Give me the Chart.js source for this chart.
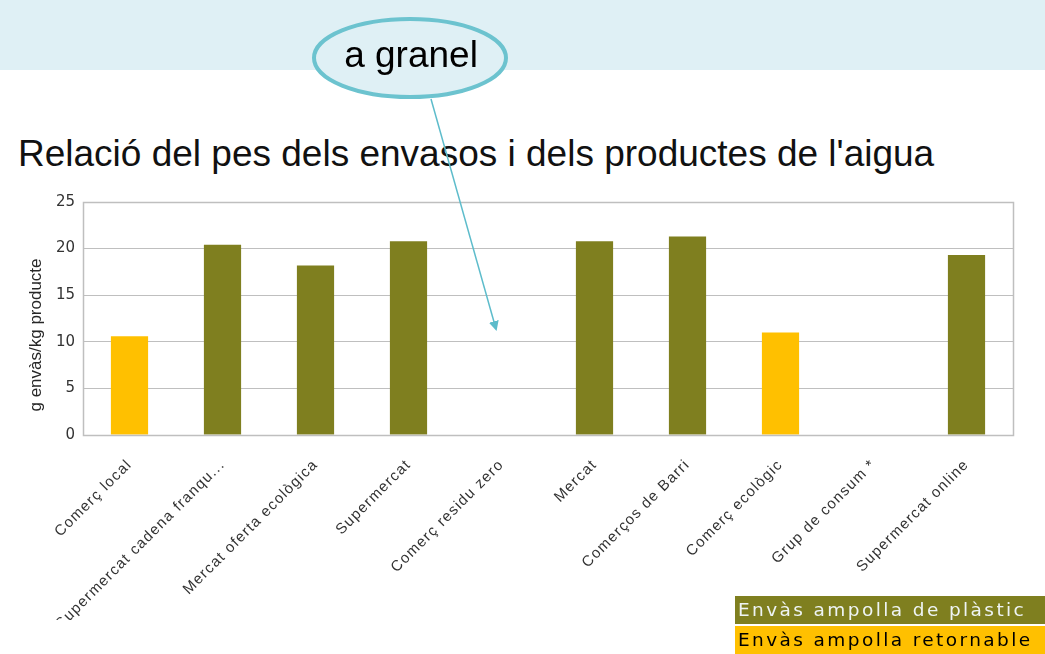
<!DOCTYPE html>
<html>
<head>
<meta charset="utf-8">
<script src="https://cdn.jsdelivr.net/npm/chart.js@4.4.1/dist/chart.umd.min.js"></script>
<style>
  html, body { margin:0; padding:0; background:#fff; }
  #page { position:relative; width:1045px; height:654px; overflow:hidden; background:#fff; }
  #band { position:absolute; left:0; top:0; width:1045px; height:70px; background:#dff0f5; }
  #title { position:absolute; left:18px; top:133px; font-family:"Liberation Sans", Arial, sans-serif; font-size:37px; line-height:normal; color:#111; white-space:nowrap; }
  #wrap { position:absolute; left:0; top:185px; width:1045px; height:435px; }
  #overlay { position:absolute; left:0; top:0; }
  .leg { position:absolute; left:735px; width:310px; height:28px; font-family:"DejaVu Sans", Verdana, sans-serif; font-size:18.5px; line-height:28px; padding-left:3px; box-sizing:border-box; white-space:nowrap; letter-spacing:2.4px; overflow:hidden; }
</style>
</head>
<body>
<div id="page">
  <div id="band"></div>
  <div id="title">Relació del pes dels envasos i dels productes de l'aigua</div>
  <div id="wrap"><canvas id="c" width="1045" height="435"></canvas></div>
  <svg id="overlay" width="1045" height="654">
    <defs>
      <marker id="ah" markerWidth="10" markerHeight="10" refX="8" refY="5" orient="auto" markerUnits="userSpaceOnUse">
        <path d="M0,0 L10,5 L0,10 z" fill="#5dbccb"/>
      </marker>
    </defs>
    <line x1="431" y1="99" x2="496" y2="329" stroke="#5dbccb" stroke-width="1.5" marker-end="url(#ah)"/>
    <ellipse cx="410" cy="58" rx="96" ry="39" fill="#dff0f5" stroke="#6cc3cf" stroke-width="4"/>
    <text x="411" y="67" text-anchor="middle" font-family="Liberation Sans, Arial, sans-serif" font-size="37" fill="#000">a granel</text>
  </svg>
  <div id="legend"></div>
</div>
<script>
const categories = [
  "Comerç local",
  "Supermercat cadena franqu...",
  "Mercat oferta ecològica",
  "Supermercat",
  "Comerç residu zero",
  "Mercat",
  "Comerços de Barri",
  "Comerç ecològic",
  "Grup de consum *",
  "Supermercat online"
];
const seriesNames = ["Envàs ampolla de plàstic", "Envàs ampolla retornable"];
const plasticValues    = [null, 20.4, 18.2, 20.8, null, 20.8, 21.3, null, null, 19.3];
const returnableValues = [10.6, null, null, null, null, null, null, 11.0, null, null];
const yTicks = [0, 5, 10, 15, 20, 25];
const yTitle = "g envàs/kg producte";
const colors = ["#7f7f1f", "#ffc000"];
const legendText = ["#eef4f4", "#000000"];

const frame = {
  id: 'frame',
  beforeDraw(chart) {
    const s = chart.scales.x;
    if (s && !s._spaced) {
      const orig = s.drawLabels.bind(s);
      s.drawLabels = function (area) {
        const c = this.ctx;
        c.save();
        c.letterSpacing = '1.2px';
        orig(area);
        c.restore();
      };
      s._spaced = true;
    }
  },
  afterDatasetsDraw(chart) {
    const a = chart.chartArea, ctx = chart.ctx;
    ctx.save();
    ctx.strokeStyle = '#bfbfbf';
    ctx.lineWidth = 1.5;
    ctx.strokeRect(Math.round(a.left) + 0.5, Math.round(a.top) + 0.5, Math.round(a.right - a.left), Math.round(a.bottom - a.top));
    // y-axis title
    ctx.translate(36, 150);
    ctx.rotate(-Math.PI / 2);
    ctx.font = '17px "Liberation Sans", Arial, sans-serif';
    ctx.fillStyle = '#262626';
    ctx.textAlign = 'center';
    ctx.textBaseline = 'middle';
    ctx.fillText(yTitle, 0, 0);
    ctx.restore();
  }
};

new Chart(document.getElementById('c'), {
  type: 'bar',
  data: {
    labels: categories,
    datasets: [
      { label: seriesNames[0], data: plasticValues, backgroundColor: colors[0], barPercentage: 0.4, categoryPercentage: 1.0 },
      { label: seriesNames[1], data: returnableValues, backgroundColor: colors[1], barPercentage: 0.4, categoryPercentage: 1.0 }
    ]
  },
  plugins: [frame],
  options: {
    responsive: false,
    animation: false,
    layout: { padding: { left: 24, right: 32, top: 12, bottom: 0 } },
    plugins: { legend: { display: false }, tooltip: { enabled: false } },
    scales: {
      x: {
        stacked: true,
        offset: true,
        grid: { display: false },
        border: { display: false },
        ticks: { minRotation: 45, maxRotation: 45, autoSkip: false, padding: 13, color: '#333333',
                 font: { family: '"Liberation Sans", Arial, sans-serif', size: 15 } },
        afterFit(s) { s.height = 185; }
      },
      y: {
        stacked: true,
        min: 0, max: 25,
        afterBuildTicks(s) { s.ticks = yTicks.map(v => ({ value: v })); },
        grid: { color: '#bfbfbf', drawTicks: false, lineWidth: 1 },
        border: { display: false },
        ticks: { padding: 8, color: '#333333', font: { family: '"DejaVu Sans", Verdana, sans-serif', size: 15 } },
        title: { display: false },
        afterFit(s) { s.width = 59; }
      }
    }
  }
});

const leg = document.getElementById('legend');
seriesNames.forEach((n, i) => {
  const d = document.createElement('div');
  d.className = 'leg';
  d.style.top = (596 + i * 30) + 'px';
  d.style.background = colors[i];
  d.style.color = legendText[i];
  d.textContent = n;
  leg.appendChild(d);
});
</script>
</body>
</html>
